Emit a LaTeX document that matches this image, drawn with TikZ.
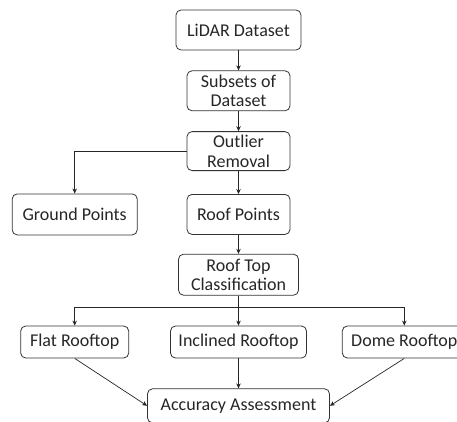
\documentclass[tikz,border=0pt]{standalone}
\usepackage{fontspec}
\setmainfont{Carlito}
\usetikzlibrary{positioning,arrows.meta}

\begin{document}
\begin{tikzpicture}[x=1pt, y=1pt,
  box/.style={rectangle, draw=black!80, line width=0.8pt, rounded corners=5pt, align=center, inner sep=1pt, text=black!85, font=\fontsize{18}{19.5}\selectfont},
  arrow/.style={draw=black!85, line width=0.7pt, -{Stealth[length=5pt, width=4.5pt]}}]

\useasboundingbox (0,0) rectangle (457,-421);

% BOXES

\node [box, minimum width=125pt, minimum height=40pt] (lidar) at (238.5,-30) {LiDAR Dataset};

\node [box, minimum width=103pt, minimum height=40pt, below=20pt of lidar] (subsets) {Subsets of\\Dataset};

\node [box, minimum width=103pt, minimum height=39pt, below=20pt of subsets] (outlier) {Outlier\\Removal};

\node [box, minimum width=103pt, minimum height=40pt, below=23pt of outlier] (roofpts) {Roof Points};

\node [box, minimum width=125pt, minimum height=41pt, left=49pt of roofpts] (ground) {Ground Points};

\node [box, minimum width=120pt, minimum height=41pt, below=19pt of roofpts] (classif) {Roof Top\\Classification};

\node [box, minimum width=136pt, minimum height=32pt, below=30pt of classif] (inclined) {Inclined Rooftop};

\node [box, minimum width=108pt, minimum height=32pt, left=41pt of inclined] (flat) {Flat Rooftop};

\node [box, minimum width=124pt, minimum height=32pt, right=35pt of inclined] (dome) {Dome Rooftop};

\node [box, minimum width=182pt, minimum height=34pt, below=30pt of inclined] (accuracy) {Accuracy Assessment};

% CONNECTORS

\draw [arrow] (lidar) -- (subsets);
\draw [arrow] (subsets) -- (outlier);
\draw [arrow] (outlier) -- (roofpts);
\draw [arrow] (outlier.west) -| (ground.north);
\draw [arrow] (roofpts) -- (classif);

\coordinate [below=12pt of classif.south] (split);
\draw [line width=0.7pt, draw=black!85] (classif.south) -- (split);
\draw [arrow] (split) -| (flat.north);
\draw [arrow] (split) -- (inclined.north);
\draw [arrow] (split) -| (dome.north);

\draw [arrow] (flat.south) -- (accuracy.west);
\draw [arrow] (inclined) -- (accuracy);
\draw [arrow] (dome.south) -- (accuracy.east);

\end{tikzpicture}
\end{document}
